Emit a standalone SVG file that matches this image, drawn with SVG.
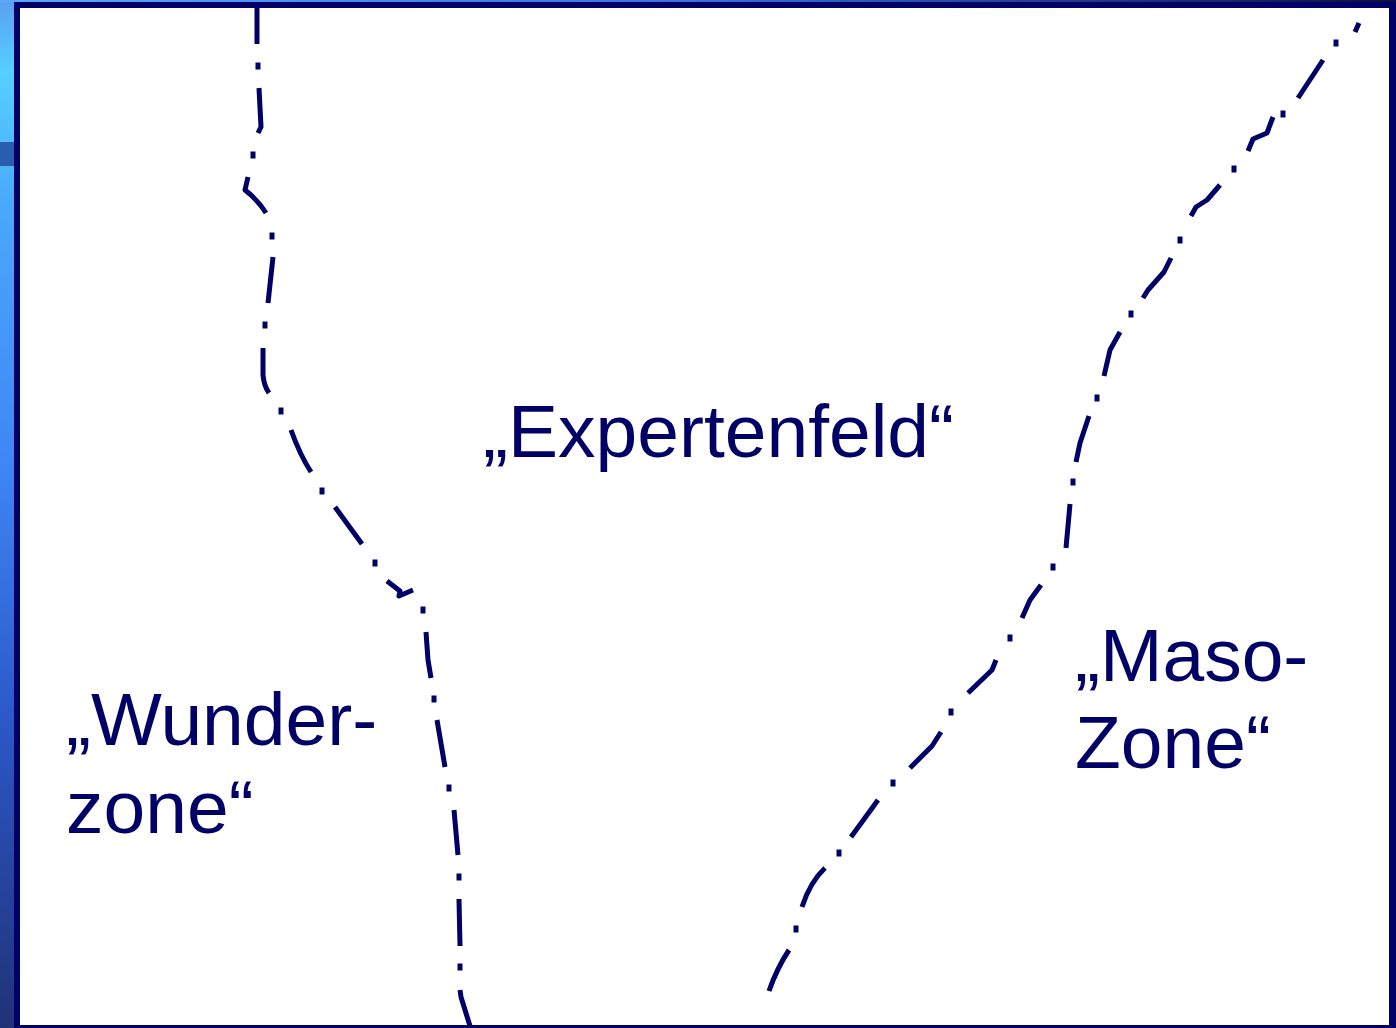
<svg xmlns="http://www.w3.org/2000/svg" width="1396" height="1028" viewBox="0 0 1396 1028">
<defs>
<linearGradient id="side" x1="0" y1="0" x2="0" y2="1">
<stop offset="0" stop-color="#5aa0f2"/>
<stop offset="0.07" stop-color="#55d0ff"/>
<stop offset="0.2" stop-color="#4aa8fa"/>
<stop offset="0.45" stop-color="#3f86f5"/>
<stop offset="0.7" stop-color="#2c58c8"/>
<stop offset="1" stop-color="#203278"/>
</linearGradient>
<linearGradient id="topg" x1="0" y1="0" x2="1" y2="0">
<stop offset="0" stop-color="#5aa8f5"/>
<stop offset="0.5" stop-color="#3a70d8"/>
<stop offset="1" stop-color="#0a1040"/>
</linearGradient>
<style>
.ln{fill:none;stroke:#000066;stroke-width:5;stroke-linecap:butt;stroke-linejoin:round}
.dt{fill:none;stroke:#000066;stroke-width:5;stroke-linecap:square}
.lbl{font-family:"Liberation Sans",Arial,sans-serif;font-size:75px;fill:#000066}
</style>
</defs>
<g id="frame">
<rect x="0" y="0" width="1396" height="1028" fill="#ffffff"/>
<rect x="0" y="0" width="14" height="1028" fill="url(#side)"/>
<rect x="0" y="142" width="14" height="24" fill="#2a5cb0"/>
<rect x="0" y="0" width="1396" height="3" fill="url(#topg)"/>
<rect x="14" y="2" width="1382" height="6" fill="#000066"/>
<rect x="14" y="2" width="6" height="1026" fill="#000066"/>
<rect x="1389" y="2" width="7" height="1026" fill="#000066"/>
<rect x="14" y="1025" width="1382" height="3" fill="#000066"/>
</g>
<g id="connectors">
<g id="left-line">
<path class="ln" d="M257,8 L257,44"/>
<path class="dt" d="M258,65 L258,67"/>
<path class="ln" d="M259,88 L261,127 L258,133"/>
<path class="dt" d="M253,154 L253,156"/>
<path class="ln" d="M248,177 L245,190 Q258,200 266,213"/>
<path class="dt" d="M272,235 L272,237"/>
<path class="ln" d="M273,257 L268,303"/>
<path class="dt" d="M265,324 L265,326"/>
<path class="ln" d="M263,348 L263,375 Q264,386 269,393"/>
<path class="dt" d="M281,410 L281,412"/>
<path class="ln" d="M291,430 Q300,455 311,472"/>
<path class="dt" d="M322,490 L322,492"/>
<path class="ln" d="M335,507 L362,544"/>
<path class="dt" d="M375,562 L375,564"/>
<path class="ln" d="M387,581 L400,591 L399,596 L413,590"/>
<path class="dt" d="M423,609 L423,611"/>
<path class="ln" d="M426,632 L428,660 L431,678"/>
<path class="dt" d="M434,698 L434,700"/>
<path class="ln" d="M437,720 L445,767"/>
<path class="dt" d="M449,787 L449,789"/>
<path class="ln" d="M454,810 L458,855"/>
<path class="dt" d="M459,876 L459,878"/>
<path class="ln" d="M459,899 L460,946"/>
<path class="dt" d="M460,966 L460,968"/>
<path class="ln" d="M460,990 L461,997 L470,1026"/>
</g>
<g id="right-line">
<path class="ln" d="M1359,23 L1355,32"/>
<path class="dt" d="M1336,42 L1336,44"/>
<path class="ln" d="M1323,60 L1298,98"/>
<path class="dt" d="M1283,113 L1283,115"/>
<path class="ln" d="M1273,117 L1267,133 L1253,139 L1248,151"/>
<path class="dt" d="M1234,168 L1234,170"/>
<path class="ln" d="M1220,185 L1207,200 L1196,207 L1191,216"/>
<path class="dt" d="M1180,239 L1180,241"/>
<path class="ln" d="M1171,258 L1164,272 L1148,290 L1143,298"/>
<path class="dt" d="M1131,313 L1131,315"/>
<path class="ln" d="M1120,332 L1110,350 L1104,376"/>
<path class="dt" d="M1097,397 L1097,399"/>
<path class="ln" d="M1089,416 L1080,443 L1076,462"/>
<path class="dt" d="M1073,481 L1073,483"/>
<path class="ln" d="M1070,504 L1066,548"/>
<path class="dt" d="M1053,566 L1053,568"/>
<path class="ln" d="M1041,585 L1030,600 L1022,618"/>
<path class="dt" d="M1010,637 L1010,639"/>
<path class="ln" d="M996,660 L992,670 L968,693"/>
<path class="dt" d="M951,711 L951,713"/>
<path class="ln" d="M941,732 L932,746 L910,768"/>
<path class="dt" d="M893,782 L893,784"/>
<path class="ln" d="M878,800 L851,837"/>
<path class="dt" d="M839,852 L839,854"/>
<path class="ln" d="M825,868 Q810,882 802,907"/>
<path class="dt" d="M796,928 L796,930"/>
<path class="ln" d="M789,950 Q777,968 769,991"/>
</g>
</g>
<g id="expertenfeld">
<text class="lbl" x="483" y="457">„Expertenfeld“</text>
</g>
<g id="wunderzone">
<text class="lbl" x="66" y="745">„Wunder-</text>
<text class="lbl" x="66" y="833">zone“</text>
</g>
<g id="masozone">
<text class="lbl" x="1075" y="681">„Maso-</text>
<text class="lbl" x="1075" y="768">Zone“</text>
</g>
</svg>
